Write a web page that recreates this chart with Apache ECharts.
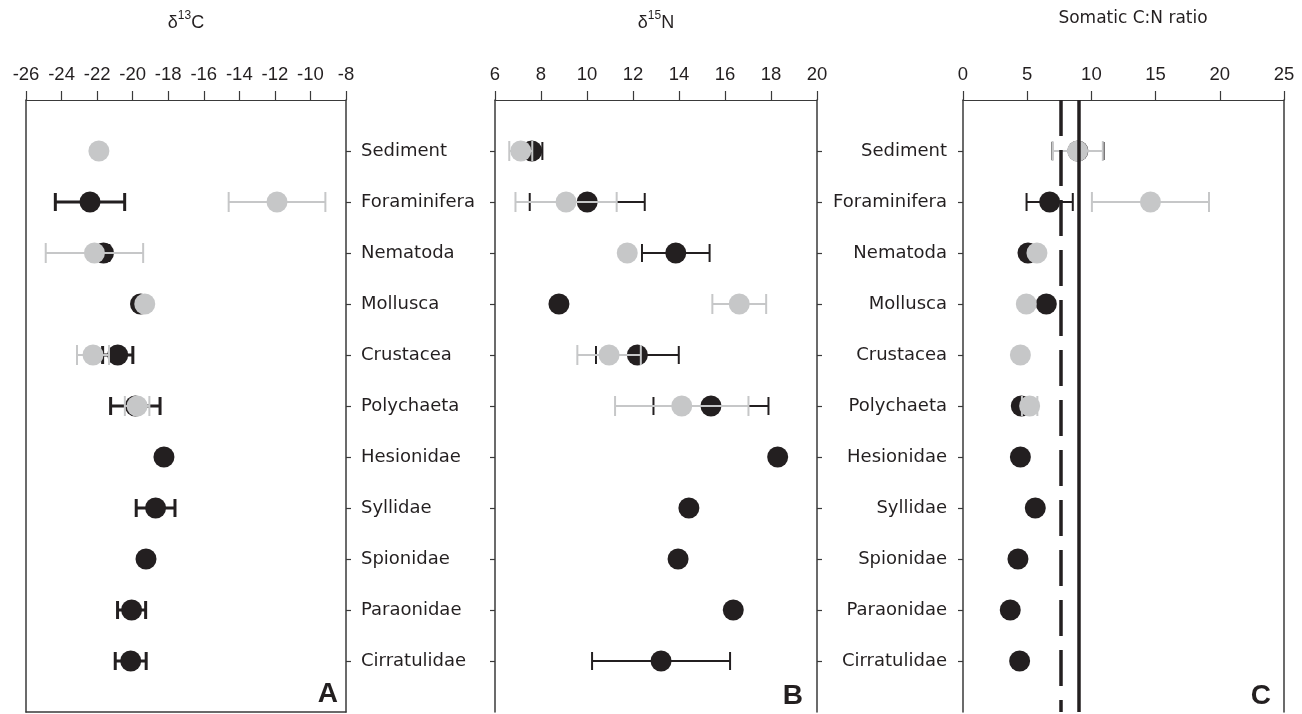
<!DOCTYPE html>
<html>
<head>
<meta charset="utf-8">
<script src="https://cdn.jsdelivr.net/npm/echarts@6/dist/echarts.min.js"></script>
<style>
html,body{margin:0;padding:0;background:#fff;}
#chart{width:1302px;height:714px;}
</style>
</head>
<body>
<div id="chart"></div>
<script>
// ---- data ----
const categories = ['Sediment','Foraminifera','Nematoda','Mollusca','Crustacea','Polychaeta','Hesionidae','Syllidae','Spionidae','Paraonidae','Cirratulidae'];

// Panel A: d13C
const c13Black    = [null, -22.4, -21.64, -19.56, -20.84, -19.85, -18.24, -18.71, -19.25, -20.06, -20.11];
const c13BlackErr = [0, 1.95, 0.3, 0.2, 0.85, 1.39, 0, 1.09, 0, 0.79, 0.87];
const c13Grey     = [-21.9, -11.88, -22.15, -19.32, -22.23, -19.75];
const c13GreyErr  = [0, 2.72, 2.74, 0, 0.9, 0.69];

// Panel B: d15N
const n15Black    = [7.6, 10.01, 13.86, 8.78, 12.19, 15.39, 18.29, 14.43, 13.96, 16.36, 13.22];
const n15BlackErr = [0.46, 2.5, 1.47, 0, 1.8, 2.5, 0, 0, 0, 0, 3.0];
const n15Grey     = [7.12, 9.09, 11.75, 16.62, 10.96, 14.12];
const n15GreyErr  = [0.5, 2.2, 0, 1.17, 1.38, 2.9];

// Panel C: C:N ratio
const cnBlack    = [8.95, 6.75, 5.06, 6.49, null, 4.54, 4.47, 5.63, 4.28, 3.68, 4.41];
const cnBlackErr = [2.0, 1.8, 0, 0, 0, 0.3, 0, 0, 0, 0, 0];
const cnGrey     = [8.93, 14.6, 5.76, 4.93, 4.47, 5.19];
const cnGreyErr  = [1.96, 4.56, 0, 0, 0, 0.6];
const cnRefDashed = 7.65;
const cnRefSolid  = 9.03;

// axis ranges / ticks
const axisA = {min: -26, max: -8, interval: 2};
const axisB = {min: 6, max: 20, interval: 2};
const axisC = {min: 0, max: 25, interval: 5};
const rowTicks = categories.map((_, i) => i + 1);

// ---- styling ----
const BLACK = '#231f20';
const GREY = '#c6c7c8';
const LINE = '#3a3a3a';
const NUMFONT = 'Liberation Sans';
const TXTFONT = 'DejaVu Sans';

const chart = echarts.init(document.getElementById('chart'), null, {renderer: 'canvas'});

const grids = [
  {left: 26, top: 100, width: 320, height: 612},
  {left: 495, top: 100, width: 322, height: 612},
  {left: 963, top: 100, width: 321, height: 612}
];

function topX(gi, ax) {
  return {
    gridIndex: gi, type: 'value', position: 'top',
    min: ax.min, max: ax.max, interval: ax.interval,
    axisLine: {show: true, lineStyle: {color: LINE, width: 1.2}},
    axisTick: {show: true, length: 9, lineStyle: {color: LINE, width: 1.2}},
    axisLabel: {show: true, margin: 16, color: BLACK, fontSize: 18.5, fontFamily: NUMFONT},
    splitLine: {show: false}
  };
}
function yAx(gi, pos, ticks, labels, align) {
  return {
    gridIndex: gi, type: 'value', position: pos, inverse: true,
    min: 0, max: 12, interval: 1,
    axisLine: {show: true, onZero: false, lineStyle: {color: LINE, width: 1.5}},
    axisTick: {show: ticks, length: 5, customValues: rowTicks, lineStyle: {color: LINE, width: 1.2}},
    axisLabel: {show: labels, customValues: rowTicks, margin: pos === 'right' ? 15 : 16,
      color: BLACK, fontSize: 18, fontFamily: TXTFONT, align: align,
      formatter: v => categories[v - 1] || ''},
    splitLine: {show: false}
  };
}

function errData(means, errs) {
  const out = [];
  means.forEach((m, i) => {
    if (m != null && errs[i] > 0) out.push([m - errs[i], m + errs[i], i + 1]);
  });
  return out;
}
function ptData(means) {
  const out = [];
  means.forEach((m, i) => { if (m != null) out.push([m, i + 1]); });
  return out;
}
function errSeries(xi, yi, means, errs, color, width, capH, z) {
  return {
    type: 'custom', xAxisIndex: xi, yAxisIndex: yi, z: z, silent: true,
    encode: {x: [0, 1], y: 2},
    data: errData(means, errs),
    renderItem: function (params, api) {
      const row = api.value(2);
      const p1 = api.coord([api.value(0), row]);
      const p2 = api.coord([api.value(1), row]);
      const h = capH / 2;
      const style = {stroke: color, lineWidth: width, fill: null};
      return {type: 'group', children: [
        {type: 'line', shape: {x1: p1[0], y1: p1[1], x2: p2[0], y2: p2[1]}, style: style},
        {type: 'line', shape: {x1: p1[0], y1: p1[1] - h, x2: p1[0], y2: p1[1] + h}, style: style},
        {type: 'line', shape: {x1: p2[0], y1: p2[1] - h, x2: p2[0], y2: p2[1] + h}, style: style}
      ]};
    }
  };
}
function ptSeries(xi, yi, means, color, z) {
  return {
    type: 'scatter', xAxisIndex: xi, yAxisIndex: yi, z: z, silent: true,
    symbol: 'circle', symbolSize: 21,
    itemStyle: {color: color, opacity: 1},
    emphasis: {disabled: true},
    data: ptData(means)
  };
}

const series = [
  // Panel A
  errSeries(0, 0, c13Black, c13BlackErr, BLACK, 3, 18, 1),
  ptSeries(0, 0, c13Black, BLACK, 2),
  errSeries(0, 0, c13Grey, c13GreyErr, GREY, 2, 20, 3),
  ptSeries(0, 0, c13Grey, GREY, 4),
  // Panel B
  errSeries(1, 2, n15Black, n15BlackErr, BLACK, 2, 18, 1),
  ptSeries(1, 2, n15Black, BLACK, 2),
  errSeries(1, 2, n15Grey, n15GreyErr, GREY, 2, 20, 3),
  ptSeries(1, 2, n15Grey, GREY, 4),
  // Panel C
  errSeries(2, 4, cnBlack, cnBlackErr, BLACK, 2, 18, 1),
  ptSeries(2, 4, cnBlack, BLACK, 2),
  errSeries(2, 4, cnGrey, cnGreyErr, GREY, 2, 20, 3),
  ptSeries(2, 4, cnGrey, GREY, 4),
  {
    type: 'line', xAxisIndex: 2, yAxisIndex: 4, z: 6, silent: true, data: [],
    markLine: {
      silent: true, symbol: ['none', 'none'], label: {show: false}, animation: false,
      data: [
        {xAxis: cnRefDashed, lineStyle: {color: BLACK, width: 3.5, type: [36, 14]}},
        {xAxis: cnRefSolid, lineStyle: {color: BLACK, width: 3.5, type: 'solid'}}
      ]
    }
  }
];

function supTitle(x, y, pre, sup, post) {
  return {
    type: 'text', x: x, y: y, silent: true,
    style: {
      text: '{a|' + pre + '}{s|' + sup + '}{a|' + post + '}',
      align: 'center', verticalAlign: 'middle',
      rich: {
        a: {fontSize: 18, fontFamily: NUMFONT, fill: BLACK, color: BLACK, lineHeight: 22, verticalAlign: 'bottom'},
        s: {fontSize: 12, fontFamily: NUMFONT, fill: BLACK, color: BLACK, lineHeight: 22, verticalAlign: 'top'}
      }
    }
  };
}
function panelLetter(x, y, t) {
  return {
    type: 'text', x: x, y: y, silent: true,
    style: {text: t, fontSize: 28, fontWeight: 'bold', fontFamily: NUMFONT, fill: BLACK,
      align: 'right', verticalAlign: 'middle'}
  };
}

chart.setOption({
  animation: false,
  backgroundColor: '#ffffff',
  grid: grids,
  xAxis: [
    topX(0, axisA), topX(1, axisB), topX(2, axisC),
    {gridIndex: 0, type: 'value', position: 'bottom', min: axisA.min, max: axisA.max,
      axisLine: {show: true, onZero: false, lineStyle: {color: LINE, width: 1.5}},
      axisTick: {show: false}, axisLabel: {show: false}, splitLine: {show: false}}
  ],
  yAxis: [
    yAx(0, 'right', true, true, 'left'),
    yAx(0, 'left', false, false, 'right'),
    yAx(1, 'left', true, false, 'right'),
    yAx(1, 'right', true, false, 'left'),
    yAx(2, 'left', true, true, 'right'),
    yAx(2, 'right', false, false, 'left')
  ],
  series: series,
  graphic: [
    supTitle(186, 21, 'δ', '13', 'C'),
    supTitle(656, 21, 'δ', '15', 'N'),
    {type: 'text', x: 1133, y: 19, silent: true,
      style: {text: 'Somatic C:N ratio', fontSize: 17, fontFamily: TXTFONT, fill: BLACK,
        align: 'center', verticalAlign: 'middle'}},
    panelLetter(338, 694, 'A'),
    panelLetter(803, 696, 'B'),
    panelLetter(1271, 696, 'C')
  ]
});
</script>
</body>
</html>
